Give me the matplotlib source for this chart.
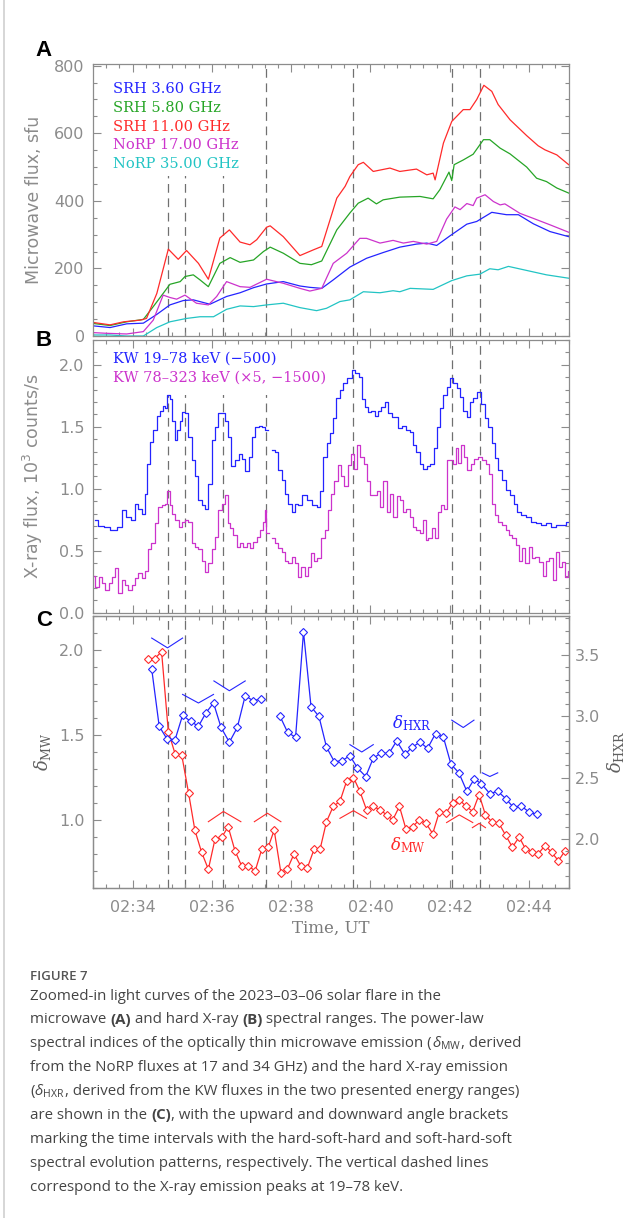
"""Zoomed-in microwave / hard X-ray light curves and spectral indices (Figure 7)."""

import numpy as np
import matplotlib
matplotlib.use("Agg")
import matplotlib.pyplot as plt
from matplotlib.lines import Line2D
from matplotlib.patches import Rectangle
from matplotlib.ticker import MultipleLocator, FuncFormatter

nan = np.nan

# ---- vertical dashed lines: 19-78 keV peaks (minutes after 02:00 UT) ----
peak_times = [34.90, 35.32, 36.27, 37.36, 39.57, 42.05, 42.75]

# ---- panel A: microwave fluxes (sfu), time in minutes after 02:00 UT ----
srh36_t = [33.01, 33.43, 33.85, 34.27, 34.61, 34.94, 35.28, 35.53, 35.95, 36.37,
           36.71, 37.05, 37.38, 37.80, 38.22, 38.47, 38.77, 39.06, 39.48, 39.90,
           40.32, 40.74, 41.16, 41.42, 41.67, 42.00, 42.43, 42.68, 43.06, 43.43,
           43.73, 44.11, 44.53, 45.00]
srh36_f = [30, 25, 36, 38, 64, 92, 105, 107, 94, 117,
           128, 143, 154, 161, 148, 144, 141, 166, 204, 230,
           247, 263, 272, 275, 268, 296, 331, 339, 366, 359,
           359, 332, 309, 294]

srh58_t = [33.01, 33.43, 33.85, 34.27, 34.52, 34.77, 34.94, 35.20, 35.32, 35.53,
           35.70, 35.91, 36.20, 36.46, 36.71, 37.05, 37.30, 37.47, 37.80, 38.22,
           38.51, 38.77, 39.15, 39.48, 39.69, 39.94, 40.15, 40.32, 40.74, 41.25,
           41.58, 41.75, 41.98, 42.05, 42.11, 42.34, 42.59, 42.85, 43.01, 43.27,
           43.52, 43.94, 44.19, 44.44, 44.70, 45.00]
srh58_f = [37, 31, 42, 49, 87, 126, 153, 161, 176, 181,
           166, 146, 215, 232, 218, 225, 250, 263, 245, 215,
           211, 222, 314, 364, 393, 408, 391, 403, 411, 413,
           406, 433, 485, 460, 507, 521, 538, 581, 581, 556,
           539, 500, 467, 457, 438, 423]

srh11_t = [33.01, 33.43, 33.77, 34.19, 34.35, 34.61, 34.90, 35.15, 35.36, 35.66,
           35.91, 36.20, 36.44, 36.71, 36.96, 37.13, 37.38, 37.47, 37.80, 38.22,
           38.56, 38.77, 39.15, 39.36, 39.48, 39.69, 39.82, 40.07, 40.49, 40.74,
           41.16, 41.42, 41.58, 41.63, 41.84, 42.05, 42.34, 42.51, 42.68, 42.86,
           43.06, 43.22, 43.52, 43.94, 44.23, 44.40, 44.70, 45.00]
srh11_f = [40, 33, 42, 47, 52, 126, 257, 227, 253, 215,
           168, 290, 314, 278, 270, 285, 322, 326, 294, 238,
           255, 265, 408, 443, 472, 507, 514, 487, 497, 487,
           494, 477, 482, 462, 571, 635, 670, 670, 700, 742,
           724, 685, 640, 593, 563, 551, 536, 507]

norp17_t = [33.01, 33.34, 33.85, 34.27, 34.52, 34.77, 34.94, 35.11, 35.32, 35.61,
            35.91, 36.12, 36.37, 36.71, 36.96, 37.38, 37.80, 38.22, 38.47, 38.77,
            39.06, 39.40, 39.73, 39.90, 40.24, 40.57, 40.83, 41.08, 41.42, 41.67,
            41.92, 42.13, 42.26, 42.43, 42.59, 42.68, 42.89, 43.10, 43.27, 43.39,
            43.77, 44.11, 44.53, 45.00]
norp17_f = [10, 8, 6, 13, 47, 121, 114, 109, 121, 97,
            92, 117, 161, 146, 144, 168, 156, 141, 133, 141,
            215, 245, 289, 289, 275, 283, 275, 280, 272, 280,
            346, 382, 374, 392, 386, 408, 418, 398, 388, 391,
            363, 348, 329, 307]

norp35_t = [33.01, 33.43, 33.85, 34.27, 34.61, 34.94, 35.36, 35.70, 36.04, 36.37,
            36.71, 37.05, 37.38, 37.80, 38.22, 38.64, 38.89, 39.23, 39.48, 39.82,
            40.24, 40.57, 40.74, 41.00, 41.58, 42.05, 42.43, 42.76, 43.01, 43.22,
            43.48, 43.94, 44.44, 45.00]
norp35_f = [3, 3, 0, 0, 25, 42, 52, 57, 57, 79,
            89, 87, 92, 97, 84, 75, 82, 102, 107, 131,
            128, 134, 131, 141, 138, 164, 178, 183, 199, 196,
            206, 194, 181, 171]

mw_labels = ["SRH 3.60 GHz", "SRH 5.80 GHz", "SRH 11.00 GHz",
             "NoRP 17.00 GHz", "NoRP 35.00 GHz"]

# ---- panel B: Konus-Wind count rates (10^3 counts/s), seconds after 02:33:00 ----
kw_lo_sec = [3, 11, 21, 31, 41, 46, 54, 61, 66, 71,
             76, 80, 84, 89, 94, 99, 104, 108, 111, 114,
             118, 122, 125, 129, 133, 137, 142, 147, 152, 157,
             162, 167, 172, 177, 182, 187, 192, 197, 202, 207,
             212, 218, 223, 228, 233, 238, 243, 248, 253, 258,
             263, 268, 273, 278, 283, 288, 293, 298, 303, 308,
             313, 321, 328, 336, 341, 346, 351, 356, 361, 366,
             371, 376, 381, 389, 394, 399, 405, 409, 414, 419,
             424, 429, 434, 439, 445, 449, 457, 465, 471, 477,
             482, 487, 492, 497, 502, 508, 513, 518, 523, 528,
             533, 539, 543, 548, 553, 558, 563, 568, 573, 578,
             585, 590, 596, 601, 606, 611, 616, 622, 627, 634,
             639, 644, 651, 659, 666, 674, 682, 689, 697, 704,
             712, 720]
kw_lo_flux = [0.75, 0.70, 0.69, 0.67, 0.69, 0.83, 0.77, 0.75, 0.88, 0.84,
              0.80, 0.96, 1.20, 1.38, 1.47, 1.59, 1.63, 1.67, 1.65, 1.76,
              1.72, 1.55, 1.39, 1.47, 1.55, 1.62, 1.61, 1.42, 1.23, 1.10,
              0.91, 0.87, 0.84, 1.04, 1.39, 1.50, 1.61, 1.61, 1.55, 1.42,
              1.18, 1.23, 1.28, 1.24, 1.14, 1.26, 1.42, 1.50, 1.51, 1.50,
              1.47, nan, 1.31, 1.30, 1.15, 1.07, 0.96, 0.88, 0.81, 0.88,
              0.87, 0.95, 0.91, 0.87, 0.85, 0.98, 1.26, 1.37, 1.45, 1.57,
              1.73, 1.80, 1.85, 1.89, 1.96, 1.93, 1.90, 1.72, 1.66, 1.62,
              1.63, 1.59, 1.63, 1.66, 1.70, 1.61, 1.58, 1.49, 1.51, 1.47,
              1.46, 1.35, 1.30, 1.20, 1.16, 1.18, 1.20, 1.33, 1.50, 1.65,
              1.76, 1.82, 1.89, 1.85, 1.81, 1.74, 1.63, 1.58, 1.70, 1.73,
              1.78, 1.68, 1.57, 1.50, 1.37, 1.25, 1.15, 1.07, 0.99, 0.95,
              0.88, 0.81, 0.79, 0.77, 0.73, 0.72, 0.71, 0.72, 0.69, 0.71,
              0.71, 0.73]

kw_hi_sec = [1, 6, 11, 16, 21, 26, 31, 36, 41, 46,
             51, 56, 61, 66, 71, 76, 81, 86, 91, 96,
             101, 107, 110, 114, 118, 122, 127, 132, 137, 142,
             147, 152, 157, 162, 167, 172, 177, 182, 187, 192,
             197, 202, 206, 210, 215, 220, 225, 230, 235, 240,
             245, 250, 255, 259, 261, 264, 268, 273, 278, 283,
             288, 293, 298, 303, 308, 313, 318, 323, 328, 332,
             337, 342, 348, 353, 358, 363, 368, 373, 378, 383,
             388, 393, 398, 402, 407, 412, 417, 422, 427, 432,
             437, 442, 447, 452, 457, 462, 467, 472, 477, 482,
             487, 492, 497, 502, 505, 510, 515, 520, 524, 529,
             534, 538, 543, 548, 551, 555, 560, 564, 569, 574,
             579, 586, 592, 597, 602, 606, 611, 616, 622, 627,
             632, 637, 642, 647, 652, 657, 662, 667, 672, 678,
             683, 688, 693, 698, 703, 708, 713, 717, 720]
kw_hi_flux = [0.30, 0.21, 0.29, 0.24, 0.18, 0.24, 0.29, 0.36, 0.16, 0.26,
              0.22, 0.18, 0.22, 0.28, 0.32, 0.28, 0.34, 0.51, 0.56, 0.72,
              0.85, 0.87, 0.88, 0.98, 0.87, 0.80, 0.75, 0.69, 0.73, 0.75,
              0.73, 0.56, 0.53, 0.51, 0.42, 0.33, 0.40, 0.51, 0.61, 0.83,
              0.88, 0.95, 0.72, 0.68, 0.63, 0.53, 0.56, 0.53, 0.56, 0.52,
              0.57, 0.61, 0.67, 0.73, 0.83, 0.64, nan, 0.60, 0.56, 0.52,
              0.49, 0.42, 0.40, 0.45, 0.40, 0.29, 0.37, 0.30, 0.37, 0.48,
              0.42, 0.44, 0.60, 0.67, 0.83, 0.96, 1.06, 1.19, 1.10, 1.02,
              1.19, 1.28, 1.16, 1.35, 1.26, 1.20, 1.06, 0.95, 0.95, 0.98,
              0.85, 1.06, 0.81, 0.96, 0.77, 0.94, 0.91, 0.81, 0.84, 0.77,
              0.69, 0.67, 0.64, 0.75, 0.59, 0.60, 0.68, 0.60, 0.81, 0.87,
              0.84, 1.23, 1.23, 1.20, 1.33, 1.21, 1.35, 1.26, 1.15, 1.20,
              1.24, 1.26, 1.23, 1.20, 1.12, 0.88, 0.79, 0.73, 0.71, 0.67,
              0.63, 0.60, 0.55, 0.42, 0.52, 0.40, 0.53, 0.44, 0.45, 0.41,
              0.30, 0.42, 0.44, 0.26, 0.49, 0.37, 0.41, 0.29, 0.34]

kw_labels = ["KW 19\u201378 keV (\u2212500)", "KW 78\u2013323 keV (\u00d75, \u22121500)"]

# ---- panel C: spectral indices ----
mw_idx_t = [34.40, 34.56, 34.73, 34.90, 35.07, 35.24, 35.41, 35.57, 35.74, 35.91,
            36.08, 36.25, 36.41, 36.58, 36.75, 36.92, 37.09, 37.26, 37.42, 37.57,
            37.74, 37.90, 38.07, 38.24, 38.41, 38.58, 38.73, 38.89, 39.06, 39.23,
            39.40, 39.57, 39.73, 39.90, 40.07, 40.24, 40.41, 40.56, 40.73, 40.89,
            41.06, 41.23, 41.40, 41.57, 41.74, 41.90, 42.07, 42.24, 42.41, 42.58,
            42.74, 42.90, 43.06, 43.24, 43.41, 43.58, 43.75, 43.91, 44.08, 44.23,
            44.40, 44.57, 44.74, 44.91]
mw_idx = [1.95, 1.95, 1.99, 1.52, 1.39, 1.38, 1.16, 0.94, 0.81, 0.71,
          0.89, 0.90, 0.96, 0.82, 0.73, 0.73, 0.70, 0.83, 0.84, 0.94,
          0.69, 0.71, 0.80, 0.73, 0.72, 0.83, 0.83, 0.99, 1.08, 1.11,
          1.23, 1.25, 1.17, 1.06, 1.08, 1.06, 1.03, 1.00, 1.08, 0.95,
          0.96, 1.00, 0.98, 0.92, 1.05, 1.04, 1.10, 1.12, 1.08, 1.05,
          1.15, 1.03, 0.99, 0.98, 0.91, 0.84, 0.90, 0.83, 0.81, 0.80,
          0.85, 0.81, 0.76, 0.82]

hxr_idx_t = [34.48, 34.67, 34.86, 35.07, 35.26, 35.46, 35.66, 35.85, 36.04, 36.23,
             36.44, 36.64, 36.84, 37.03, 37.23, 37.47, 37.72, 37.91, 38.11, 38.31,
             38.50, 38.70, 38.89, 39.09, 39.29, 39.48, 39.67, 39.88, 40.07, 40.26,
             40.47, 40.66, 40.87, 41.05, 41.25, 41.44, 41.64, 41.84, 42.03, 42.23,
             42.43, 42.62, 42.80, 43.01, 43.21, 43.41, 43.60, 43.80, 44.00, 44.19]
hxr_idx = [3.39, 2.92, 2.82, 2.81, 3.01, 2.96, 2.92, 3.03, 3.11, 2.91,
           2.79, 2.91, 3.17, 3.13, 3.14, nan, 3.00, 2.87, 2.83, 3.69,
           3.08, 3.00, 2.75, 2.63, 2.64, 2.68, 2.58, 2.51, 2.66, 2.70,
           2.70, 2.80, 2.69, 2.75, 2.79, 2.74, 2.86, 2.83, 2.61, 2.54,
           2.39, 2.49, 2.45, 2.37, 2.39, 2.33, 2.26, 2.27, 2.22, 2.20]

# angle brackets: start, vertex, end time; arm-end level, vertex level
hxr_br_t0 = [34.48, 35.26, 36.05, 39.48, 42.05, 42.82]
hxr_br_t1 = [34.88, 35.66, 36.44, 39.78, 42.34, 43.01]
hxr_br_t2 = [35.26, 36.04, 36.84, 40.07, 42.61, 43.21]
hxr_br_edge = [3.64, 3.18, 3.29, 2.77, 2.97, 2.54]
hxr_br_tip = [3.56, 3.11, 3.21, 2.71, 2.91, 2.51]

mw_br_t0 = [35.91, 37.07, 39.23, 41.92, 42.57]
mw_br_t1 = [36.29, 37.40, 39.57, 42.24, 42.74]
mw_br_t2 = [36.73, 37.74, 39.90, 42.58, 42.90]
mw_br_edge = [0.99, 0.99, 1.01, 0.985, 0.955]
mw_br_tip = [1.05, 1.04, 1.055, 1.03, 0.98]

# caption: (text, kind) with kind "n" normal, "b" bold, "m" math
caption_lines = [
    [("Zoomed-in light curves of the 2023\u201303\u201306 solar flare in the", "n")],
    [("microwave ", "n"), ("(A)", "b"), (" and hard X-ray ", "n"), ("(B)", "b"),
     (" spectral ranges. The power-law", "n")],
    [("spectral indices of the optically thin microwave emission (", "n"),
     (r"$\delta_{\mathrm{MW}}$", "m"), (", derived", "n")],
    [("from the NoRP fluxes at 17 and 34 GHz) and the hard X-ray emission", "n")],
    [("(", "n"), (r"$\delta_{\mathrm{HXR}}$", "m"),
     (", derived from the KW fluxes in the two presented energy ranges)", "n")],
    [("are shown in the ", "n"), ("(C)", "b"), (", with the upward and downward angle brackets", "n")],
    [("marking the time intervals with the hard-soft-hard and soft-hard-soft", "n")],
    [("spectral evolution patterns, respectively. The vertical dashed lines", "n")],
    [("correspond to the X-ray emission peaks at 19\u201378 keV.", "n")],
]

BLUE, GREEN, RED = "#2424ff", "#26a526", "#ff2a2a"
MAGENTA, CYAN = "#cc33cc", "#22c4c4"
GRAY = "#8c8c8c"
DASH = (0, (7, 4.5))

plt.rcParams["mathtext.fontset"] = "custom"
plt.rcParams["mathtext.rm"] = "Open Sans"
plt.rcParams["mathtext.it"] = "Open Sans:italic"
plt.rcParams["mathtext.bf"] = "Open Sans:bold"


def style_axis(ax, ymajor, yminor, right=True):
    ax.set_xlim(33, 45)
    ax.xaxis.set_major_locator(MultipleLocator(2))
    ax.xaxis.set_minor_locator(MultipleLocator(1 / 3))
    ax.yaxis.set_major_locator(MultipleLocator(ymajor))
    ax.yaxis.set_minor_locator(MultipleLocator(yminor))
    ax.tick_params(which="both", direction="in", top=True, right=right,
                   color=GRAY, labelcolor=GRAY, width=0.8, labelsize=11.5, pad=6)
    ax.tick_params(which="major", length=5.5)
    ax.tick_params(which="minor", length=3)
    for s in ax.spines.values():
        s.set_color(GRAY)
        s.set_linewidth(0.9)


def text_legend(ax, colors, labels, anchor):
    hs = [Line2D([], [], color=c, label=l) for c, l in zip(colors, labels)]
    ax.legend(handles=hs, loc="upper left", bbox_to_anchor=anchor, handlelength=0,
              handletextpad=0, labelcolor="linecolor", frameon=False, borderpad=0,
              borderaxespad=0, labelspacing=0.33, prop={"family": "DejaVu Serif", "size": 10.5})


fig = plt.figure(figsize=(6.38, 12.18), dpi=100)
L, W = 93 / 638, 475.7 / 638

# --- Panel A ---
axA = fig.add_axes([L, 1 - 336 / 1218, W, 272 / 1218])
for t in peak_times:
    axA.axvline(t, color="#707070", lw=0.9, ls=DASH, zorder=1)
axA.add_patch(Rectangle((0, 0.59), 0.32, 0.41, transform=axA.transAxes,
                        facecolor="white", edgecolor="none", zorder=1.5))
for tt, ff, c in [(srh36_t, srh36_f, BLUE), (srh58_t, srh58_f, GREEN), (srh11_t, srh11_f, RED),
                  (norp17_t, norp17_f, MAGENTA), (norp35_t, norp35_f, CYAN)]:
    axA.plot(tt, ff, color=c, lw=0.9, zorder=2)
axA.set_ylim(0, 805)
style_axis(axA, 200, 50)
axA.tick_params(labelbottom=False)
axA.set_ylabel("Microwave flux, sfu", color=GRAY, fontsize=12.5)
axA.yaxis.set_label_coords(-0.105, 0.5)
text_legend(axA, [BLUE, GREEN, RED, MAGENTA, CYAN], mw_labels, (0.042, 0.934))

# --- Panel B ---
axB = fig.add_axes([L, 1 - 612.7 / 1218, W, 272.7 / 1218])
for t in peak_times:
    axB.axvline(t, color="#707070", lw=0.9, ls=DASH, zorder=1)
axB.add_patch(Rectangle((0, 0.80), 0.372, 0.20, transform=axB.transAxes,
                        facecolor="white", edgecolor="none", zorder=1.5))
axB.plot(33 + np.array(kw_lo_sec) / 60, kw_lo_flux, color=BLUE, lw=0.9, drawstyle="steps-mid", zorder=2)
axB.plot(33 + np.array(kw_hi_sec) / 60, kw_hi_flux, color=MAGENTA, lw=0.9, drawstyle="steps-mid", zorder=2)
axB.set_ylim(0, 2.2)
style_axis(axB, 0.5, 0.1)
axB.yaxis.set_major_formatter(FuncFormatter(lambda v, p: f"{v:.1f}"))
axB.tick_params(labelbottom=False)
axB.set_ylabel("X-ray flux, 10$^3$ counts/s", color=GRAY, fontsize=12.5, math_fontfamily="dejavusans")
axB.yaxis.set_label_coords(-0.101, 0.5)
text_legend(axB, [BLUE, MAGENTA], kw_labels, (0.042, 0.956))

# --- Panel C ---
axC = fig.add_axes([L, 1 - 888 / 1218, W, 272 / 1218])
for t in peak_times:
    axC.axvline(t, color="#707070", lw=0.9, ls=DASH, zorder=1)
axC.plot(mw_idx_t, mw_idx, color=RED, lw=0.9, marker="D", ms=3.6, mfc="white", mew=0.8)
for a, b, c, e, tip in zip(mw_br_t0, mw_br_t1, mw_br_t2, mw_br_edge, mw_br_tip):
    axC.plot([a, b, c], [e, tip, e], color=RED, lw=0.8)
axC.set_ylim(0.6, 2.2)
style_axis(axC, 0.5, 0.1, right=False)
axC.yaxis.set_major_formatter(FuncFormatter(lambda v, p: f"{v:.1f}"))
axC.xaxis.set_major_formatter(FuncFormatter(lambda v, p: f"02:{int(round(v)):02d}"))
axC.tick_params(axis="x", pad=9)
axC.set_xlabel("Time, UT", color="#7a7a7a", fontsize=12, family="DejaVu Serif", labelpad=3)
axC.set_ylabel(r"$\delta_{\mathrm{MW}}$", color="#606060", fontsize=13, math_fontfamily="dejavuserif")
axC.yaxis.set_label_coords(-0.084, 0.5)
axC.text(40.95, 0.852, r"$\delta_{\mathrm{MW}}$", color=RED, fontsize=12,
         math_fontfamily="dejavuserif", ha="center", va="center")

axC2 = axC.twinx()
axC2.plot(hxr_idx_t, hxr_idx, color=BLUE, lw=0.9, marker="D", ms=3.6, mfc="white", mew=0.8)
for a, b, c, e, tip in zip(hxr_br_t0, hxr_br_t1, hxr_br_t2, hxr_br_edge, hxr_br_tip):
    axC2.plot([a, b, c], [e, tip, e], color=BLUE, lw=0.8)
axC2.set_ylim(1.6, 3.82)
axC2.yaxis.set_major_locator(MultipleLocator(0.5))
axC2.yaxis.set_minor_locator(MultipleLocator(0.1))
axC2.yaxis.set_major_formatter(FuncFormatter(lambda v, p: f"{v:.1f}"))
axC2.tick_params(which="both", direction="in", color=GRAY, labelcolor=GRAY, width=0.8,
                 labelsize=11.5, pad=4.5)
axC2.tick_params(which="major", length=5.5)
axC2.tick_params(which="minor", length=3)
for s in axC2.spines.values():
    s.set_color(GRAY)
    s.set_linewidth(0.9)
axC2.set_ylabel(r"$\delta_{\mathrm{HXR}}$", color="#606060", fontsize=13, math_fontfamily="dejavuserif")
axC2.yaxis.set_label_coords(1.076, 0.5)
axC2.text(41.04, 2.945, r"$\delta_{\mathrm{HXR}}$", color=BLUE, fontsize=12,
          math_fontfamily="dejavuserif", ha="center", va="center")

# panel letters
for letter, y in [("A", 51), ("B", 340), ("C", 621)]:
    fig.text(44 / 638, 1 - y / 1218, letter, fontsize=16, fontweight="bold",
             family="Liberation Sans", ha="center", va="center")

# page border on the left
fig.add_artist(Line2D([4 / 638, 4 / 638], [0, 1], color="#cfcfcf", lw=1.2))

# caption, written piece by piece so that bold parts sit inline
renderer = fig.canvas.get_renderer()
cap_kw = dict(fontsize=10.8, family="Open Sans", color="#444444", va="center")


def piece_width(s, **kw):
    t = fig.text(0, 0, s, **kw)
    w = t.get_window_extent(renderer).width
    t.remove()
    return w


fig.text(30 / 638, 1 - 977 / 1218, "FIGURE 7", fontsize=9.5, fontweight="semibold",
         family="Open Sans", color="#555555", va="center")
bar_w = piece_width("|", **cap_kw)
for i, pieces in enumerate(caption_lines):
    x = 30.0
    y = 1 - (996 + 23.9 * i) / 1218
    for txt, kind in pieces:
        kw = dict(cap_kw, fontweight="bold" if kind == "b" else "normal")
        fig.text(x / 638, y, txt, **kw)
        if kind == "m":
            x += piece_width(txt, **kw)
        else:
            x += piece_width(txt + "|", **kw) - piece_width("|", **kw)

fig.savefig("out.png", dpi=100)
plt.close(fig)
